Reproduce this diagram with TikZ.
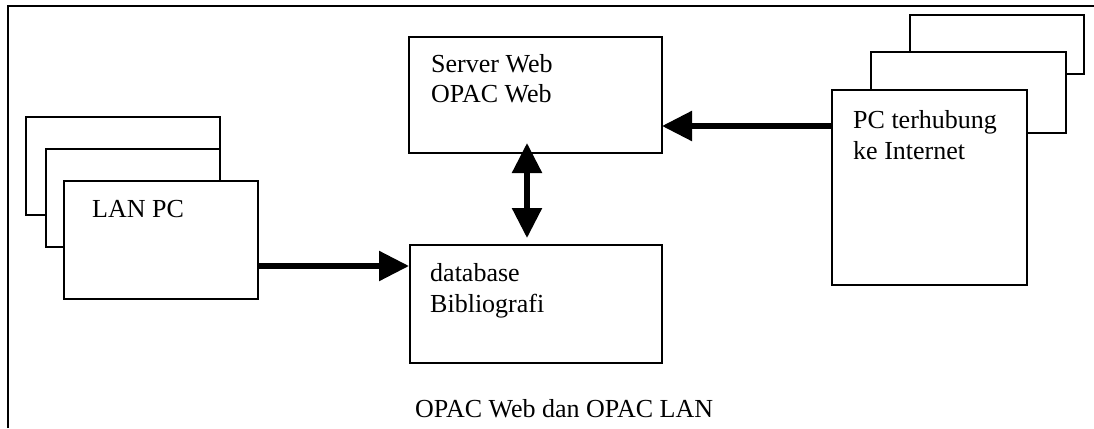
\documentclass[tikz,border=0pt]{standalone}
\usepackage{fontspec}
\setmainfont{Liberation Serif}
\usetikzlibrary{arrows.meta,calc}
\begin{document}
\begin{tikzpicture}[x=1pt,y=-1pt,
  box/.style={draw, line width=1.5pt, fill=white, inner sep=0pt, outer sep=0pt, anchor=north west},
  lbl/.style={anchor=base west, inner sep=0pt, font=\fontsize{26}{30}\selectfont},
  tipshape/.tip={Triangle[length=30pt,width=29pt]},
  conn/.style={line width=5.5pt, -tipshape},
  dconn/.style={line width=5.5pt, tipshape-tipshape}]
\useasboundingbox (0,0) rectangle (1094,428);
\draw[line width=1.5pt] (8,428) -- (8,6) -- (1094,6);
% left stack
\node[box, minimum width=194pt, minimum height=98pt] (lan3) at (26,117) {};
\node[box, minimum width=174pt, minimum height=98pt] (lan2) at (46,149) {};
\node[box, minimum width=194pt, minimum height=118pt] (lan1) at (64,181) {};
% right stack
\node[box, minimum width=174pt, minimum height=59pt] (inet3) at (910,15) {};
\node[box, minimum width=195pt, minimum height=81pt] (inet2) at (871,52) {};
\node[box, minimum width=195pt, minimum height=195pt] (inet1) at (832,90) {};
% centre
\node[box, minimum width=253pt, minimum height=116pt] (server) at (409,37) {};
\node[box, minimum width=252pt, minimum height=118pt] (db) at (410,245) {};
% texts
\node[lbl] (tlan) at (92,217) {LAN PC};
\node[lbl] (tsrv1) at (431,72) {Server Web};
\node[lbl] (tsrv2) at (431,102) {OPAC Web};
\node[lbl] (tdb1) at (430,281) {database};
\node[lbl] (tdb2) at (430,312) {Bibliografi};
\node[lbl] (tin1) at (853,128) {PC terhubung};
\node[lbl] (tin2) at (853,159) {ke Internet};
\node[lbl] (cap) at (415,417) {OPAC Web dan OPAC LAN};
% connectors
\draw[conn] ($(lan1.east)+(0,26)$) -- ($(db.west)+(-1,-38)$);
\draw[conn] ($(inet1.west)+(0,-61.5)$) -- ($(server.east)+(0,31)$);
\draw[dconn] ($(server.south)+(-8.5,-10)$) -- ($(db.north)+(-9,-7)$);
\end{tikzpicture}
\end{document}
